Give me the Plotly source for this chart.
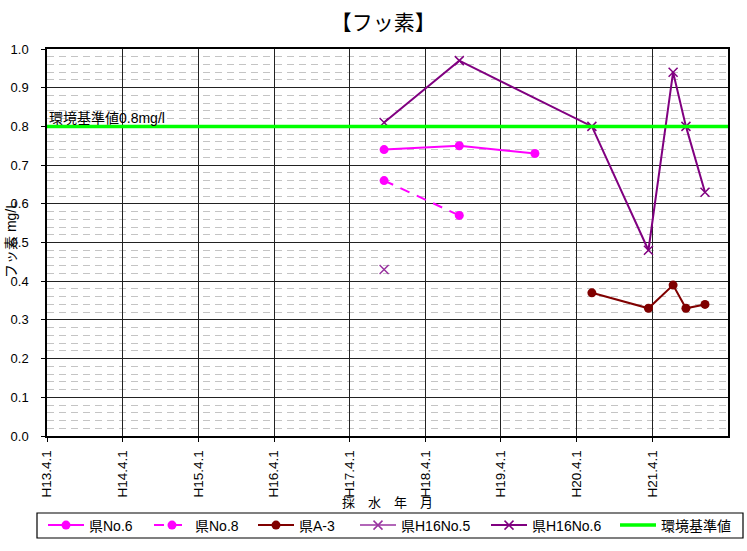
import plotly.graph_objects as go

# Sampling dates and fluoride concentrations (mg/L)
no6_dates = ["2005-09-14", "2006-09-12", "2007-09-12"]
no6_vals = [0.74, 0.75, 0.73]

no8_dates = ["2005-09-14", "2006-09-12"]
no8_vals = [0.66, 0.57]

a3_dates = ["2008-06-13", "2009-03-13", "2009-07-10", "2009-09-10", "2009-12-11"]
a3_vals = [0.37, 0.33, 0.39, 0.33, 0.34]

h16no5_dates = ["2005-09-14"]
h16no5_vals = [0.43]

h16no6_dates = ["2005-09-14", "2006-09-12", "2008-06-13", "2009-03-13",
                "2009-07-10", "2009-09-10", "2009-12-11"]
h16no6_vals = [0.81, 0.97, 0.80, 0.48, 0.94, 0.80, 0.63]

standard_value = 0.8
axis_start, axis_end = "2001-04-01", "2010-04-01"

tick_dates = ["2001-04-01", "2002-04-01", "2003-04-01", "2004-04-01", "2005-04-01",
              "2006-04-01", "2007-04-01", "2008-04-01", "2009-04-01"]
tick_labels = ["H13.4.1", "H14.4.1", "H15.4.1", "H16.4.1", "H17.4.1",
               "H18.4.1", "H19.4.1", "H20.4.1", "H21.4.1"]

FONT = "Liberation Sans, Arial, Noto Sans CJK JP, sans-serif"
JFONT = "Noto Sans CJK JP, sans-serif"

# plot area in pixels (used to place the legend row under the chart)
W, H = 747, 551
ML, MR, MT, MB = 47, 19, 49, 115
PW, PH = W - ML - MR, H - MT - MB


def px_x(px):
    return (px - ML) / PW


def px_y(py):
    return (H - MB - py) / PH


fig = go.Figure()

fig.add_trace(go.Scatter(
    x=no6_dates, y=no6_vals, name="県No.6", mode="lines+markers", legend="legend",
    line=dict(color="#FF00FF", width=2),
    marker=dict(symbol="circle", size=9, color="#FF00FF")))

fig.add_trace(go.Scatter(
    x=no8_dates, y=no8_vals, name="県No.8", mode="lines+markers", legend="legend2",
    line=dict(color="#FF00FF", width=2, dash="10px,8px"),
    marker=dict(symbol="circle", size=9, color="#FF00FF")))

fig.add_trace(go.Scatter(
    x=a3_dates, y=a3_vals, name="県A-3", mode="lines+markers", legend="legend3",
    line=dict(color="#800000", width=2),
    marker=dict(symbol="circle", size=9, color="#800000")))

fig.add_trace(go.Scatter(
    x=h16no5_dates, y=h16no5_vals, name="県H16No.5", mode="lines+markers", legend="legend4",
    line=dict(color="#9933A0", width=1.5),
    marker=dict(symbol="x-thin", size=9, line=dict(color="#9933A0", width=1.5))))

fig.add_trace(go.Scatter(
    x=h16no6_dates, y=h16no6_vals, name="県H16No.6", mode="lines+markers", legend="legend5",
    line=dict(color="#800080", width=2),
    marker=dict(symbol="x-thin", size=9, line=dict(color="#800080", width=1.5))))

fig.add_trace(go.Scatter(
    x=[axis_start, axis_end], y=[standard_value, standard_value], name="環境基準値",
    mode="lines", legend="legend6", line=dict(color="#00FF00", width=3.5)))

fig.add_annotation(
    x=0, xref="paper", y=standard_value, yref="y", xanchor="left", yanchor="bottom",
    text="環境基準値0.8mg/l", showarrow=False, xshift=0, yshift=-2,
    font=dict(family=FONT, size=14, color="#000000"))

fig.add_annotation(
    x=px_x(11), xref="paper", y=px_y(240), yref="paper", xanchor="center", yanchor="middle",
    text="フッ素 mg/L", textangle=-90, showarrow=False,
    font=dict(family=FONT, size=14, color="#000000"))

fig.add_annotation(
    x=0.5, xref="paper", y=px_y(501), yref="paper", xanchor="center", yanchor="middle",
    text="採　水　年　月", showarrow=False,
    font=dict(family=JFONT, size=13, color="#000000"))

# legend frame
fig.add_shape(type="rect", xref="paper", yref="paper",
              x0=px_x(37), x1=px_x(743), y0=px_y(538), y1=px_y(513),
              line=dict(color="#000000", width=1.2), fillcolor="white", layer="below")

legend_starts = [49, 155, 259, 361, 492, 621]
legend_keys = ["legend", "legend2", "legend3", "legend4", "legend5", "legend6"]
legend_layout = {}
for key, start in zip(legend_keys, legend_starts):
    legend_layout[key] = dict(
        orientation="h", x=px_x(start - 6), xanchor="left",
        y=px_y(525.5), yanchor="middle", borderwidth=0,
        bgcolor="rgba(0,0,0,0)", itemwidth=36,
        font=dict(family=FONT, size=14, color="#000000"))

fig.update_layout(
    width=W, height=H,
    margin=dict(l=ML, r=MR, t=MT, b=MB, autoexpand=False),
    paper_bgcolor="white", plot_bgcolor="white",
    font=dict(family=FONT, size=13, color="#000000"),
    title=dict(text="【フッ素】", x=0.513, xanchor="center", y=0.958, yanchor="middle",
               font=dict(family=JFONT, size=21, color="#000000")),
    showlegend=True,
    **legend_layout,
)

fig.update_xaxes(
    type="date", range=[axis_start, axis_end], automargin=False,
    tickmode="array", tickvals=tick_dates, ticktext=tick_labels, tickangle=-90,
    showgrid=True, gridcolor="#222222", gridwidth=1,
    showline=True, linecolor="#000000", linewidth=1.5, mirror=True,
    ticks="outside", ticklen=4, tickcolor="#000000",
    ticklabelstandoff=3, tickfont=dict(size=13.5),
    zeroline=False)

fig.update_yaxes(
    range=[0, 1.0], tick0=0, dtick=0.1, tickformat=".1f", automargin=False,
    showgrid=True, gridcolor="#222222", gridwidth=1,
    minor=dict(tick0=0, dtick=0.02, showgrid=True, gridcolor="#c4c4c4",
               griddash="7px,5px", gridwidth=1),
    showline=True, linecolor="#000000", linewidth=1.5, mirror=True,
    ticks="outside", ticklen=4, tickcolor="#000000",
    ticklabelstandoff=10, tickfont=dict(size=13),
    zeroline=False)

fig.write_html("out.html")
